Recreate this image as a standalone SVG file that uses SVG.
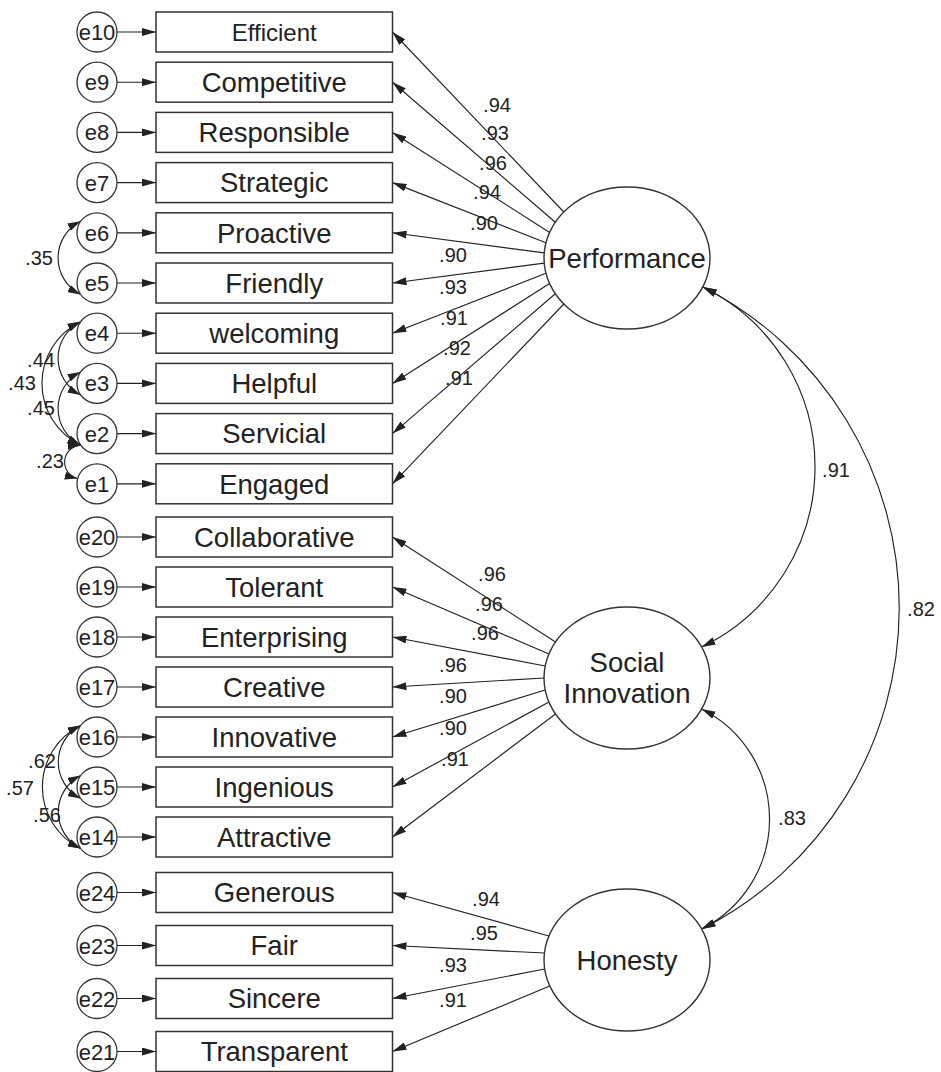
<svg xmlns="http://www.w3.org/2000/svg" width="941" height="1072" viewBox="0 0 941 1072">
<style>
text{font-family:"Liberation Sans",Arial,Helvetica,sans-serif;fill:#222}
.box{fill:#fff;stroke:#333;stroke-width:1.5}
.err{fill:#fff;stroke:#333;stroke-width:1.3}
.lat{fill:#fff;stroke:#333;stroke-width:1.4}
.bl{font-size:27.5px;text-anchor:middle}
.el{font-size:22px;text-anchor:middle}
.ll{font-size:27.5px;text-anchor:middle}
.cf{font-size:20px;text-anchor:middle}
.ln{stroke:#222;stroke-width:1.15;fill:none}
.a{marker-end:url(#ah)}
.b{marker-start:url(#ah);marker-end:url(#ah)}
.bs{marker-start:url(#ahs);marker-end:url(#ahs)}
</style>
<defs>
<marker id="ah" viewBox="0 0 14 8" refX="14" refY="4" markerWidth="14" markerHeight="8" markerUnits="userSpaceOnUse" orient="auto-start-reverse"><path d="M0,0 L14,4 L0,8 z" fill="#222"/></marker>
<marker id="ahs" viewBox="0 0 13 8" refX="13" refY="4" markerWidth="13" markerHeight="8" markerUnits="userSpaceOnUse" orient="auto-start-reverse"><path d="M0,0 L13,4 L0,8 z" fill="#222"/></marker>
</defs>
<rect width="941" height="1072" fill="#fff"/>
<g id="connectors">
<line class="ln a" x1="117" y1="32" x2="156" y2="32"/>
<line class="ln a" x1="117" y1="82.2" x2="156" y2="82.2"/>
<line class="ln a" x1="117" y1="132.4" x2="156" y2="132.4"/>
<line class="ln a" x1="117" y1="182.6" x2="156" y2="182.6"/>
<line class="ln a" x1="117" y1="232.8" x2="156" y2="232.8"/>
<line class="ln a" x1="117" y1="283" x2="156" y2="283"/>
<line class="ln a" x1="117" y1="333.2" x2="156" y2="333.2"/>
<line class="ln a" x1="117" y1="383.4" x2="156" y2="383.4"/>
<line class="ln a" x1="117" y1="433.6" x2="156" y2="433.6"/>
<line class="ln a" x1="117" y1="483.8" x2="156" y2="483.8"/>
<line class="ln a" x1="117" y1="537" x2="156" y2="537"/>
<line class="ln a" x1="117" y1="587" x2="156" y2="587"/>
<line class="ln a" x1="117" y1="637" x2="156" y2="637"/>
<line class="ln a" x1="117" y1="687" x2="156" y2="687"/>
<line class="ln a" x1="117" y1="737" x2="156" y2="737"/>
<line class="ln a" x1="117" y1="787" x2="156" y2="787"/>
<line class="ln a" x1="117" y1="837" x2="156" y2="837"/>
<line class="ln a" x1="117" y1="892.5" x2="156" y2="892.5"/>
<line class="ln a" x1="117" y1="945.5" x2="156" y2="945.5"/>
<line class="ln a" x1="117" y1="998.5" x2="156" y2="998.5"/>
<line class="ln a" x1="117" y1="1051.5" x2="156" y2="1051.5"/>
<line class="ln a" x1="563.8" y1="212" x2="392.5" y2="32"/>
<line class="ln a" x1="555.3" y1="222.2" x2="392.5" y2="82.2"/>
<line class="ln a" x1="549.6" y1="232.4" x2="392.5" y2="132.4"/>
<line class="ln a" x1="545.9" y1="242.7" x2="392.5" y2="182.6"/>
<line class="ln a" x1="544.2" y1="252.9" x2="392.5" y2="232.8"/>
<line class="ln a" x1="544.2" y1="263.1" x2="392.5" y2="283"/>
<line class="ln a" x1="545.9" y1="273.3" x2="392.5" y2="333.2"/>
<line class="ln a" x1="549.6" y1="283.6" x2="392.5" y2="383.4"/>
<line class="ln a" x1="555.3" y1="293.8" x2="392.5" y2="433.6"/>
<line class="ln a" x1="563.8" y1="304" x2="392.5" y2="483.8"/>
<line class="ln a" x1="555.5" y1="642" x2="392.5" y2="537"/>
<line class="ln a" x1="548.9" y1="654" x2="392.5" y2="587"/>
<line class="ln a" x1="545.2" y1="666" x2="392.5" y2="637"/>
<line class="ln a" x1="544" y1="678" x2="392.5" y2="687"/>
<line class="ln a" x1="545.2" y1="690" x2="392.5" y2="737"/>
<line class="ln a" x1="548.9" y1="702" x2="392.5" y2="787"/>
<line class="ln a" x1="555.5" y1="714" x2="392.5" y2="837"/>
<line class="ln a" x1="548.9" y1="936" x2="392.5" y2="892.5"/>
<line class="ln a" x1="544.4" y1="953" x2="392.5" y2="945.5"/>
<line class="ln a" x1="544.7" y1="969" x2="392.5" y2="998.5"/>
<line class="ln a" x1="549.8" y1="986" x2="392.5" y2="1051.5"/>
<path class="ln bs" d="M80.6,221.3 A41,41 0 0 0 80.6,294.5"/>
<path class="ln bs" d="M80.6,321.7 A41,41 0 0 0 80.6,394.9"/>
<path class="ln bs" d="M80.6,321.7 A68.6,68.6 0 0 0 80.6,445.1"/>
<path class="ln bs" d="M80.6,371.9 A41,41 0 0 0 80.6,445.1"/>
<path class="ln bs" d="M80.6,445.1 A17,17 0 0 0 77.7,478.6"/>
<path class="ln bs" d="M80.6,725.5 A41,41 0 0 0 80.6,798.5"/>
<path class="ln bs" d="M80.6,725.5 A68.6,68.6 0 0 0 80.6,848.5"/>
<path class="ln bs" d="M80.6,775.5 A41,41 0 0 0 80.6,848.5"/>
<path class="ln b" d="M702.8,287 A200,200 0 0 1 701.6,647"/>
<path class="ln b" d="M702.8,287 A360,360 0 0 1 701.6,929"/>
<path class="ln b" d="M701.6,709 A123,123 0 0 1 701.6,929"/>
<g class="cf-labels">
<text class="cf" x="497" y="112">.94</text>
<text class="cf" x="495" y="140">.93</text>
<text class="cf" x="493" y="170">.96</text>
<text class="cf" x="487" y="199">.94</text>
<text class="cf" x="484" y="230">.90</text>
<text class="cf" x="453" y="262">.90</text>
<text class="cf" x="453" y="294">.93</text>
<text class="cf" x="454" y="325">.91</text>
<text class="cf" x="457" y="355">.92</text>
<text class="cf" x="459" y="385">.91</text>
<text class="cf" x="492" y="581">.96</text>
<text class="cf" x="489" y="611">.96</text>
<text class="cf" x="485" y="640">.96</text>
<text class="cf" x="453" y="672">.96</text>
<text class="cf" x="453" y="703">.90</text>
<text class="cf" x="453" y="735">.90</text>
<text class="cf" x="455" y="766">.91</text>
<text class="cf" x="486" y="906">.94</text>
<text class="cf" x="484" y="940">.95</text>
<text class="cf" x="453" y="972">.93</text>
<text class="cf" x="453" y="1007">.91</text>
<text class="cf" x="39" y="265">.35</text>
<text class="cf" x="41" y="367">.44</text>
<text class="cf" x="22" y="390">.43</text>
<text class="cf" x="41" y="415">.45</text>
<text class="cf" x="50" y="468">.23</text>
<text class="cf" x="42" y="768">.62</text>
<text class="cf" x="20" y="795">.57</text>
<text class="cf" x="47" y="822">.56</text>
<text class="cf" x="836" y="477">.91</text>
<text class="cf" x="921" y="616">.82</text>
<text class="cf" x="792" y="825">.83</text>
</g>
</g>
<g id="indicators">
<g id="n-efficient"><rect class="box" x="156" y="12" width="236.5" height="40"/><text class="bl" x="274.25" y="40.6" style="font-size:24px">Efficient</text></g>
<g id="n-competitive"><rect class="box" x="156" y="62.2" width="236.5" height="40"/><text class="bl" x="274.25" y="92">Competitive</text></g>
<g id="n-responsible"><rect class="box" x="156" y="112.4" width="236.5" height="40"/><text class="bl" x="274.25" y="142.2">Responsible</text></g>
<g id="n-strategic"><rect class="box" x="156" y="162.6" width="236.5" height="40"/><text class="bl" x="274.25" y="192.4">Strategic</text></g>
<g id="n-proactive"><rect class="box" x="156" y="212.8" width="236.5" height="40"/><text class="bl" x="274.25" y="242.6">Proactive</text></g>
<g id="n-friendly"><rect class="box" x="156" y="263" width="236.5" height="40"/><text class="bl" x="274.25" y="292.8">Friendly</text></g>
<g id="n-welcoming"><rect class="box" x="156" y="313.2" width="236.5" height="40"/><text class="bl" x="274.25" y="343">welcoming</text></g>
<g id="n-helpful"><rect class="box" x="156" y="363.4" width="236.5" height="40"/><text class="bl" x="274.25" y="393.2">Helpful</text></g>
<g id="n-servicial"><rect class="box" x="156" y="413.6" width="236.5" height="40"/><text class="bl" x="274.25" y="443.4">Servicial</text></g>
<g id="n-engaged"><rect class="box" x="156" y="463.8" width="236.5" height="40"/><text class="bl" x="274.25" y="493.6">Engaged</text></g>
<g id="n-collaborative"><rect class="box" x="156" y="517" width="236.5" height="40"/><text class="bl" x="274.25" y="546.8">Collaborative</text></g>
<g id="n-tolerant"><rect class="box" x="156" y="567" width="236.5" height="40"/><text class="bl" x="274.25" y="596.8">Tolerant</text></g>
<g id="n-enterprising"><rect class="box" x="156" y="617" width="236.5" height="40"/><text class="bl" x="274.25" y="646.8">Enterprising</text></g>
<g id="n-creative"><rect class="box" x="156" y="667" width="236.5" height="40"/><text class="bl" x="274.25" y="696.8">Creative</text></g>
<g id="n-innovative"><rect class="box" x="156" y="717" width="236.5" height="40"/><text class="bl" x="274.25" y="746.8">Innovative</text></g>
<g id="n-ingenious"><rect class="box" x="156" y="767" width="236.5" height="40"/><text class="bl" x="274.25" y="796.8">Ingenious</text></g>
<g id="n-attractive"><rect class="box" x="156" y="817" width="236.5" height="40"/><text class="bl" x="274.25" y="846.8">Attractive</text></g>
<g id="n-generous"><rect class="box" x="156" y="872.5" width="236.5" height="40"/><text class="bl" x="274.25" y="902.3">Generous</text></g>
<g id="n-fair"><rect class="box" x="156" y="925.5" width="236.5" height="40"/><text class="bl" x="274.25" y="955.3">Fair</text></g>
<g id="n-sincere"><rect class="box" x="156" y="978.5" width="236.5" height="40"/><text class="bl" x="274.25" y="1008.3">Sincere</text></g>
<g id="n-transparent"><rect class="box" x="156" y="1031.5" width="236.5" height="40"/><text class="bl" x="274.25" y="1061.3">Transparent</text></g>
</g>
<g id="errors">
<g id="e10"><circle class="err" cx="97" cy="32" r="20"/><text class="el" x="97" y="40">e10</text></g>
<g id="e9"><circle class="err" cx="97" cy="82.2" r="20"/><text class="el" x="97" y="90.2">e9</text></g>
<g id="e8"><circle class="err" cx="97" cy="132.4" r="20"/><text class="el" x="97" y="140.4">e8</text></g>
<g id="e7"><circle class="err" cx="97" cy="182.6" r="20"/><text class="el" x="97" y="190.6">e7</text></g>
<g id="e6"><circle class="err" cx="97" cy="232.8" r="20"/><text class="el" x="97" y="240.8">e6</text></g>
<g id="e5"><circle class="err" cx="97" cy="283" r="20"/><text class="el" x="97" y="291">e5</text></g>
<g id="e4"><circle class="err" cx="97" cy="333.2" r="20"/><text class="el" x="97" y="341.2">e4</text></g>
<g id="e3"><circle class="err" cx="97" cy="383.4" r="20"/><text class="el" x="97" y="391.4">e3</text></g>
<g id="e2"><circle class="err" cx="97" cy="433.6" r="20"/><text class="el" x="97" y="441.6">e2</text></g>
<g id="e1"><circle class="err" cx="97" cy="483.8" r="20"/><text class="el" x="97" y="491.8">e1</text></g>
<g id="e20"><circle class="err" cx="97" cy="537" r="20"/><text class="el" x="97" y="545">e20</text></g>
<g id="e19"><circle class="err" cx="97" cy="587" r="20"/><text class="el" x="97" y="595">e19</text></g>
<g id="e18"><circle class="err" cx="97" cy="637" r="20"/><text class="el" x="97" y="645">e18</text></g>
<g id="e17"><circle class="err" cx="97" cy="687" r="20"/><text class="el" x="97" y="695">e17</text></g>
<g id="e16"><circle class="err" cx="97" cy="737" r="20"/><text class="el" x="97" y="745">e16</text></g>
<g id="e15"><circle class="err" cx="97" cy="787" r="20"/><text class="el" x="97" y="795">e15</text></g>
<g id="e14"><circle class="err" cx="97" cy="837" r="20"/><text class="el" x="97" y="845">e14</text></g>
<g id="e24"><circle class="err" cx="97" cy="892.5" r="20"/><text class="el" x="97" y="900.5">e24</text></g>
<g id="e23"><circle class="err" cx="97" cy="945.5" r="20"/><text class="el" x="97" y="953.5">e23</text></g>
<g id="e22"><circle class="err" cx="97" cy="998.5" r="20"/><text class="el" x="97" y="1006.5">e22</text></g>
<g id="e21"><circle class="err" cx="97" cy="1051.5" r="20"/><text class="el" x="97" y="1059.5">e21</text></g>
</g>
<g id="latents">
<g id="performance"><ellipse class="lat" cx="627" cy="258" rx="83" ry="71"/><text class="ll" x="627" y="267.5">Performance</text></g>
<g id="social-innovation"><ellipse class="lat" cx="627" cy="678" rx="83" ry="71"/><text class="ll" x="627" y="672">Social</text><text class="ll" x="627" y="703">Innovation</text></g>
<g id="honesty"><ellipse class="lat" cx="627" cy="960" rx="83" ry="71"/><text class="ll" x="627" y="970">Honesty</text></g>
</g>
</svg>
